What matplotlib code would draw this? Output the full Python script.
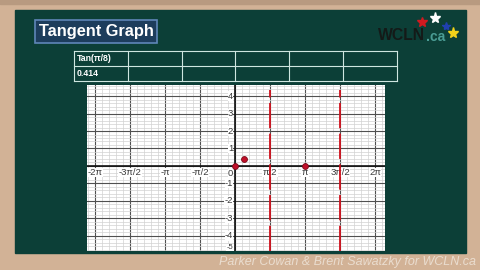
import numpy as np
import matplotlib
matplotlib.use("Agg")
import matplotlib.pyplot as plt
from matplotlib.patches import Rectangle

# ---- data ----
point_x = [0.0, np.pi / 8, np.pi]
point_y = [0.0, 0.414, 0.0]
asymptotes = [np.pi / 2, 3 * np.pi / 2]
xtick_vals = [-2 * np.pi, -1.5 * np.pi, -np.pi, -0.5 * np.pi, 0.5 * np.pi, np.pi, 1.5 * np.pi, 2 * np.pi]
xtick_labels = ["-2π", "-3π/2", "-π", "-π/2", "π/2", "π", "3π/2", "2π"]
ytick_vals = [-5, -4, -3, -2, -1, 0, 1, 2, 3, 4]
table_row1 = ["Tan(π/8)", "", "", "", "", ""]
table_row2 = ["0.414", "", "", "", "", ""]

W, H = 480, 270
fig = plt.figure(figsize=(4.8, 2.7), dpi=100)
bg = fig.add_axes([0, 0, 1, 1])
bg.set_xlim(0, W)
bg.set_ylim(H, 0)
bg.axis("off")

# wood frame
bg.add_patch(Rectangle((0, 0), W, H, color="#d2b296", zorder=0))
bg.add_patch(Rectangle((0, 0), W, 4, color="#b89a80", zorder=0.5))
# board
bg.add_patch(Rectangle((15, 10), 451, 243, color="#0c3f37", zorder=1))

# title box
bg.add_patch(Rectangle((35, 20), 122, 23, facecolor="#1d3d5c", edgecolor="#5f86b8", lw=1.2, zorder=2))
bg.text(96, 31.5, "Tangent Graph", color="white", fontsize=11.8, fontweight="bold",
        family="Liberation Sans", ha="center", va="center", zorder=3)

# logo
bg.text(378, 36, "WCLN", color="#141a18", fontsize=11.3, fontweight="bold", family="Liberation Sans",
        ha="left", va="center", zorder=3)
bg.text(426, 37, ".ca", color="#4a9c94", fontsize=10, fontweight="bold", family="Liberation Sans",
        ha="left", va="center", zorder=3)
bg.plot([422], [22], marker="*", color="#d01a20", ms=7, zorder=3)
bg.plot([435], [18], marker="*", color="white", ms=8, zorder=3)
bg.plot([446], [26], marker="*", color="#2040b0", ms=6, zorder=3)
bg.plot([453], [33], marker="*", color="#f2d21a", ms=8, zorder=3)

# table
tx = [74, 128, 182, 235, 289, 343, 397]
ty = [51, 66, 81]
lc = "#cfe6e0"
for x in tx:
    bg.plot([x, x], [ty[0], ty[-1]], color=lc, lw=0.8, zorder=3)
for y in ty:
    bg.plot([tx[0], tx[-1]], [y, y], color=lc, lw=0.8, zorder=3)
for i, txt in enumerate(table_row1):
    bg.text(tx[i] + 3, 58.5, txt, color="white", fontsize=6.3, fontweight="bold",
            family="Liberation Sans", ha="left", va="center", zorder=4)
for i, txt in enumerate(table_row2):
    bg.text(tx[i] + 3, 73.5, txt, color="white", fontsize=6.3, fontweight="bold",
            family="Liberation Sans", ha="left", va="center", zorder=4)

# footer credit
bg.text(476, 262, "Parker Cowan & Brent Sawatzky for WCLN.ca", color="#f2ebe2", fontsize=9,
        style="italic", family="Liberation Sans", ha="right", va="center", zorder=3, alpha=0.75)

# graph axes
gx0, gx1, gy0, gy1 = 87, 385, 85, 251
ax = fig.add_axes([gx0 / W, (H - gy1) / H, (gx1 - gx0) / W, (gy1 - gy0) / H])
ax.set_facecolor("white")
ax.set_xlim(-6.642, 6.732)
ax.set_ylim(-4.86, 4.63)
for s in ax.spines.values():
    s.set_visible(False)
ax.set_xticks([])
ax.set_yticks([])

step = np.pi / 2
for k in np.arange(-5 * 5, 5 * 5 + 1):
    x = k * step / 5
    major = (k % 5 == 0)
    ax.axvline(x, color="#505050" if major else "#d2d2d2", lw=0.8 if major else 0.5, zorder=1)
for k in np.arange(-6 * 5, 6 * 5 + 1):
    y = k / 5
    major = (k % 5 == 0)
    ax.axhline(y, color="#505050" if major else "#d2d2d2", lw=0.8 if major else 0.5, zorder=1)
ax.axhline(0, color="#111111", lw=1.2, zorder=2)
ax.axvline(0, color="#111111", lw=1.2, zorder=2)

for x, lab in zip(xtick_vals, xtick_labels):
    ax.text(x, -0.12, lab, fontsize=6.8, color="#3a3a3a", ha="center", va="top",
            family="Liberation Sans", zorder=3, clip_on=True,
            bbox=dict(facecolor="white", edgecolor="none", pad=0.2))
for y in ytick_vals:
    if y == 0:
        yy = -0.45
    elif y == -5:
        yy = -4.66
    else:
        yy = y
    ax.text(-0.08, yy, str(y), fontsize=6.8 if y != -5 else 5.5, color="#3a3a3a", ha="right", va="center",
            family="Liberation Sans", zorder=3, clip_on=True,
            bbox=dict(facecolor="white", edgecolor="none", pad=0.2))

for a in asymptotes:
    ax.plot([a, a], [-4.86, 4.35], color="#d0101c", lw=1.3, ls=(0, (14, 3)), zorder=4)

ax.scatter(point_x, point_y, s=18, color="#c0102a", edgecolor="#7a0a18", lw=0.6, zorder=5)

fig.savefig("out.png", dpi=100)
